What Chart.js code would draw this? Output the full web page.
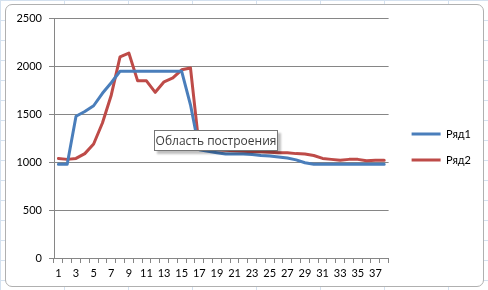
<!DOCTYPE html>
<html>
<head>
<meta charset="utf-8">
<script src="https://cdn.jsdelivr.net/npm/chart.js@4"></script>
<style>
  html, body { margin: 0; padding: 0; }
  body {
    width: 488px; height: 290px; overflow: hidden; position: relative;
    background-color: #ffffff;
    background-image:
      repeating-linear-gradient(to right, #d4e1ef 0, #d4e1ef 1px, transparent 1px, transparent 64px),
      repeating-linear-gradient(to bottom, #d4e1ef 0, #d4e1ef 1px, transparent 1px, transparent 20px);
  }
  #frame {
    position: absolute; left: 5px; top: 4px; width: 479px; height: 283px;
    background: #fff; border: 1px solid #b0b0b0; border-radius: 7px;
    box-sizing: border-box;
  }
  #chart { position: absolute; left: 0; top: 0; }
  #tip {
    position: absolute; left: 154px; top: 130px; width: 124px; height: 21px;
    box-sizing: border-box; border: 1px solid #767676; background: #fff;
    font: 12px "Open Sans", sans-serif; color: #3c3c3c;
    line-height: 19px; text-align: center;
    box-shadow: 3px 3px 2px rgba(0,0,0,0.25);
  }
</style>
</head>
<body>
<div id="frame"><canvas id="chart" width="477" height="281"></canvas></div>
<div id="tip">Область построения</div>
<script>
// данные
const categorias = Array.from({ length: 38 }, (_, i) => String(i + 1));
const serie1 = [980, 980, 1480, 1530, 1590, 1720, 1830, 1950,
  1950, 1950, 1950, 1950, 1950, 1950, 1950, 1600,
  1130, 1115, 1100, 1085, 1085, 1085, 1080, 1070, 1065, 1055, 1045, 1025, 995,
  980, 980, 980, 980, 980, 980, 980, 980, 980];
const serie2 = [1040, 1030, 1040, 1090, 1190, 1410, 1700, 2100,
  2140, 1850, 1850, 1730, 1840, 1880, 1965, 1985,
  1150, 1140, 1130, 1125, 1120, 1115, 1110, 1110, 1105, 1100, 1100, 1090, 1085,
  1070, 1040, 1030, 1020, 1030, 1030, 1015, 1020, 1020];
const nomes = ["Ряд1", "Ряд2"];
const yMax = 2500;
const yPasso = 500;

const fonte = { family: "Lato, 'Liberation Sans', sans-serif", size: 11 };
const cinza = "#868686";

// empurra a legenda um pouco para a direita e para cima, como no Excel
const moverLegenda = {
  id: "moverLegenda",
  afterLayout(chart) {
    const l = chart.legend;
    l.left += 8; l.right += 8;
    l.top -= 3; l.bottom -= 3;
  },
};

new Chart(document.getElementById("chart"), {
  type: "line",
  data: {
    labels: categorias,
    datasets: [
      { label: nomes[0], data: serie1, borderColor: "#4a7ebb", backgroundColor: "#4a7ebb",
        borderWidth: 3, pointRadius: 0, tension: 0, borderJoinStyle: "round", borderCapStyle: "round" },
      { label: nomes[1], data: serie2, borderColor: "#be4b48", backgroundColor: "#be4b48",
        borderWidth: 3, pointRadius: 0, tension: 0, borderJoinStyle: "round", borderCapStyle: "round" },
    ],
  },
  options: {
    responsive: false,
    animation: false,
    layout: { padding: { top: 13, left: 0, right: 10, bottom: 4 } },
    plugins: {
      tooltip: { enabled: false },
      legend: {
        position: "right",
        labels: {
          usePointStyle: true,
          pointStyle: "line",
          pointStyleWidth: 29,
          color: "#000",
          font: fonte,
          padding: 15,
        },
      },
    },
    scales: {
      x: {
        offset: true,
        afterFit: (s) => { s.height = 24; },
        grid: { display: true, drawOnChartArea: false, offset: true, tickLength: 5, color: cinza },
        border: { color: cinza },
        ticks: {
          autoSkip: false, maxRotation: 0, color: "#000", font: fonte, padding: 4,
          callback: (v, i) => (i % 2 === 0 ? categorias[i] : ""),
        },
      },
      y: {
        min: 0, max: yMax,
        afterFit: (s) => { s.width = 48; },
        grid: { color: cinza, tickLength: 5 },
        border: { color: cinza },
        ticks: { stepSize: yPasso, color: "#000", font: fonte, padding: 7, callback: (v) => String(v) },
      },
    },
  },
  plugins: [moverLegenda],
});
</script>
</body>
</html>
